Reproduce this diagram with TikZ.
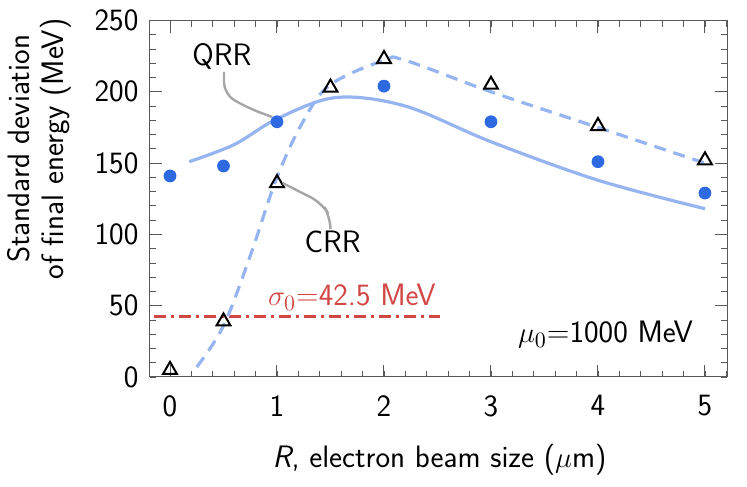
\documentclass[tikz,border=0pt]{standalone}
\usetikzlibrary{shapes.geometric}
\begin{document}
\begin{tikzpicture}[x=53.5pt,y=0.713pt,font=\sffamily\fontsize{15.5}{17}\selectfont,
  dot/.style={circle,draw=none,minimum size=6.4pt,inner sep=0pt},
  tri/.style={regular polygon,regular polygon sides=3,draw=black,line width=1pt,minimum size=8pt,inner sep=0pt},
  qrr/.style={line width=1.6pt,color={rgb,255:red,150;green,180;blue,240}},
  crr/.style={qrr,dash pattern=on 6pt off 4pt},
  lead/.style={gray!70,line width=1.2pt,rounded corners=6pt}]
\definecolor{dotc}{RGB}{45,105,225}
\definecolor{redc}{RGB}{210,70,70}
\useasboundingbox (-1.589,-77.1) rectangle (5.393,264.4);
% frame
\draw[gray!70!black,line width=0.5pt] (-0.19,0) rectangle (5.21,250);
\foreach \i in {0,0.2,...,5.2}{\draw[gray!70!black,line width=0.4pt] (\i,0)--++(0,3pt) (\i,250)--++(0,-3pt);}
\foreach \i in {0,...,5}{\draw[gray!70!black,line width=0.5pt] (\i,0)--++(0,6pt) (\i,250)--++(0,-6pt);
  \node[anchor=north] (xl\i) at (\i,-8) {\i};}
\foreach \j in {0,10,...,250}{\draw[gray!70!black,line width=0.4pt] (-0.19,\j)--++(3pt,0) (5.21,\j)--++(-3pt,0);}
\foreach \j in {0,50,...,250}{\draw[gray!70!black,line width=0.5pt] (-0.19,\j)--++(6pt,0) (5.21,\j)--++(-6pt,0);
  \node[anchor=east] (yl\j) at (-0.23,\j) {\j};}
\node (xlab) at (2.52,-58) {\textit{R}, electron beam size ($\mu$m)};
\node[rotate=90,align=center] (ylab) at (-1.22,160) {Standard deviation\\of final energy (MeV)};
% red line
\draw[redc,line width=1.2pt,dash pattern=on 6pt off 2.5pt on 1.5pt off 2.5pt] (-0.15,42.5)--(2.52,42.5);
\node[redc] (sig) at (1.70,56) {$\sigma_0$=42.5 MeV};
\node (mu) at (4.07,29.5) {$\mu_0$=1000 MeV};
% curves
\draw[qrr] plot[smooth,tension=0.55] coordinates {(0.18,151)(0.6,163)(1,181)(1.55,196)(2.2,190)(3,165)(4,138)(5,118)};
\draw[crr] plot[smooth,tension=0.6] coordinates {(0.25,7)(0.5,36)(0.75,85)(1,140)(1.25,180)(1.5,205)(2,222)(2.2,222)(3,200)(4,175)(5,150)};
% data
\foreach \x/\y [count=\k] in {0/141,0.5/148,1/179,2/204,3/179,4/151,5/129}{\node[dot,fill=dotc] (c\k) at (\x,\y) {};}
\foreach \x/\y [count=\k] in {0/5,0.5/39,1/136,1.5/203,2/223,3/205,4/176,5/152}{\node[tri] (t\k) at (\x,\y) {};}
% labels
\node (QRR) at (0.486,225) {QRR};
\node (CRR) at (1.52,95) {CRR};
\draw[lead] (0.505,214)--(0.505,198)--(0.75,188)--(c3.north west);
\draw[lead] (t3.east)--(1.42,122)--(1.50,112)--(1.50,106);
\end{tikzpicture}
\end{document}
